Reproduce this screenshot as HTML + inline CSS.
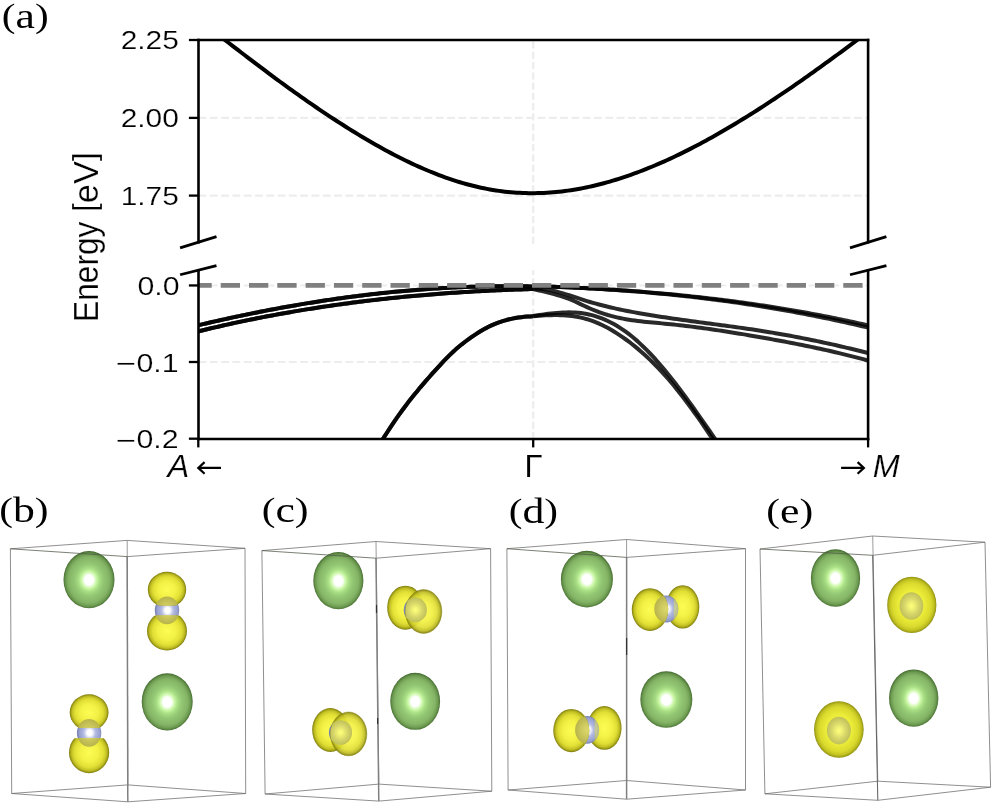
<!DOCTYPE html>
<html lang="en">
<head>
<meta charset="utf-8">
<title>Band structure and charge densities</title>
<style>
html,body{margin:0;padding:0;background:#fff;}
body{width:997px;height:812px;position:relative;overflow:hidden;font-family:"Liberation Sans",sans-serif;}
svg{display:block}
.bl{filter:blur(0.4px)}
text{fill:#000}
.lbl{opacity:0.999}
.lbl text.sn{stroke:#fff;stroke-width:0.2px}
</style>
</head>
<body>
<svg width="997" height="812" viewBox="0 0 997 812" style="position:absolute;left:0;top:0">
<defs>
<radialGradient id="gG" cx="50%" cy="50.5%" r="50%">
<stop offset="0" stop-color="#ffffff"/>
<stop offset="0.17" stop-color="#ffffff"/>
<stop offset="0.29" stop-color="#ccf8a8"/>
<stop offset="0.41" stop-color="#a8de84"/>
<stop offset="0.56" stop-color="#94c874"/>
<stop offset="0.8" stop-color="#84b466"/>
<stop offset="0.91" stop-color="#6e9c52"/>
<stop offset="0.97" stop-color="#56803e"/>
<stop offset="1" stop-color="#426a2e"/>
</radialGradient>
<radialGradient id="gY" cx="50%" cy="50%" r="50%">
<stop offset="0" stop-color="#fcfc54"/>
<stop offset="0.45" stop-color="#f3f145"/>
<stop offset="0.72" stop-color="#e1df35"/>
<stop offset="0.87" stop-color="#c3c125"/>
<stop offset="0.95" stop-color="#9c9a14"/>
<stop offset="1" stop-color="#78760a"/>
</radialGradient>
<radialGradient id="gYe" cx="50%" cy="50%" r="50%">
<stop offset="0" stop-color="#f4f444"/>
<stop offset="0.5" stop-color="#eded3a"/>
<stop offset="0.78" stop-color="#dada2e"/>
<stop offset="0.9" stop-color="#c2c222"/>
<stop offset="0.97" stop-color="#a2a216"/>
<stop offset="1" stop-color="#88880e"/>
</radialGradient>
<radialGradient id="gA" cx="52%" cy="50%" r="50%">
<stop offset="0" stop-color="#ffffff"/>
<stop offset="0.2" stop-color="#ffffff"/>
<stop offset="0.5" stop-color="#b2bae2"/>
<stop offset="0.85" stop-color="#969fce"/>
<stop offset="1" stop-color="#7a84b2"/>
</radialGradient>
<radialGradient id="gO" cx="50%" cy="50%" r="50%">
<stop offset="0" stop-color="#ffff7c"/>
<stop offset="0.25" stop-color="#f0f074"/>
<stop offset="0.6" stop-color="#d6d66a"/>
<stop offset="1" stop-color="#c0c05a"/>
</radialGradient>
<radialGradient id="gO2" cx="50%" cy="50%" r="50%">
<stop offset="0" stop-color="#dcd86c"/>
<stop offset="0.5" stop-color="#ccc85e"/>
<stop offset="1" stop-color="#b8b44c"/>
</radialGradient>
</defs>
<g><g fill="none" stroke="#6a6a6a" stroke-width="0.75"><path d="M10.4,548.8L127.2,540.4L245.0,548.3L127.2,556.6"/><path d="M11.7,793.5L127.8,784.9L245.7,793.5L127.8,801.8Z"/><path d="M10.4,548.8L11.7,793.5M245.0,548.3L245.7,793.5"/><path d="M127.2,540.4L127.8,784.9" stroke="#7a7a7a"/><path d="M127.2,556.6L127.8,801.8" stroke="#808080" stroke-width="1.5"/></g><g fill="none" stroke="#6a6a6a" stroke-width="0.75"><path d="M261.9,550.6L376.0,541.5L490.6,548.7L376.0,558.2"/><path d="M265.1,794.0L378.8,784.1L491.8,791.2L378.8,801.1Z"/><path d="M261.9,550.6L265.1,794.0M490.6,548.7L491.8,791.2"/><path d="M376.0,541.5L378.8,784.1" stroke="#7a7a7a"/><path d="M376.0,558.2L378.8,801.1" stroke="#808080" stroke-width="1.5"/></g><g fill="none" stroke="#6a6a6a" stroke-width="0.75"><path d="M506.9,548.7L626.6,539.5L745.5,548.7L626.6,557.4"/><path d="M508.1,790.0L626.6,780.5L745.5,790.0L626.6,799.2Z"/><path d="M506.9,548.7L508.1,790.0M745.5,548.7L745.5,790.0"/><path d="M626.6,539.5L626.6,780.5" stroke="#7a7a7a"/><path d="M626.6,557.4L626.6,799.2" stroke="#808080" stroke-width="1.5"/></g><g fill="none" stroke="#6a6a6a" stroke-width="0.75"><path d="M760.0,549.0L872.7,536.0L985.0,542.2L872.7,555.3"/><path d="M764.9,793.8L877.8,781.2L990.6,787.2L877.8,800.3Z"/><path d="M760.0,549.0L764.9,793.8M985.0,542.2L990.6,787.2"/><path d="M872.7,536.0L877.8,781.2" stroke="#7a7a7a"/><path d="M872.7,555.3L877.8,800.3" stroke="#686868" stroke-width="1.1"/></g></g>
<g class="bl"><ellipse cx="89.0" cy="579.7" rx="25.5" ry="28.6" fill="url(#gG)"/><ellipse cx="167.2" cy="701.8" rx="25.5" ry="28.6" fill="url(#gG)"/><ellipse cx="167.0" cy="610.4" rx="12.2" ry="13.9" fill="url(#gA)"/><clipPath id="ctb1"><rect x="137.0" y="569.8000000000001" width="60" height="35.59999999999991"/></clipPath><clipPath id="cbb1"><rect x="137.0" y="615.6" width="60" height="37.0"/></clipPath><clipPath id="etb1"><ellipse cx="167.0" cy="589.6" rx="19.2" ry="17.8"/></clipPath><clipPath id="ebb1"><ellipse cx="167.0" cy="631.0" rx="20.0" ry="19.6"/></clipPath><g clip-path="url(#ctb1)"><ellipse cx="167.0" cy="589.6" rx="19.2" ry="17.8" fill="url(#gY)"/><g clip-path="url(#etb1)"><ellipse cx="167.0" cy="610.4" rx="12.2" ry="13.9" fill="url(#gO2)"/></g></g><g clip-path="url(#cbb1)"><ellipse cx="167.0" cy="631.0" rx="20.0" ry="19.6" fill="url(#gY)"/><g clip-path="url(#ebb1)"><ellipse cx="167.0" cy="610.4" rx="12.2" ry="13.9" fill="url(#gO2)"/></g></g><ellipse cx="89.1" cy="732.8" rx="12.2" ry="13.9" fill="url(#gA)"/><clipPath id="ctb2"><rect x="59.099999999999994" y="692.3" width="60" height="35.700000000000045"/></clipPath><clipPath id="cbb2"><rect x="59.099999999999994" y="738.2" width="60" height="36.999999999999886"/></clipPath><clipPath id="etb2"><ellipse cx="89.1" cy="712.4" rx="19.4" ry="18.1"/></clipPath><clipPath id="ebb2"><ellipse cx="89.1" cy="752.4" rx="20.1" ry="20.8"/></clipPath><g clip-path="url(#ctb2)"><ellipse cx="89.1" cy="712.4" rx="19.4" ry="18.1" fill="url(#gY)"/><g clip-path="url(#etb2)"><ellipse cx="89.1" cy="732.8" rx="12.2" ry="13.9" fill="url(#gO2)"/></g></g><g clip-path="url(#cbb2)"><ellipse cx="89.1" cy="752.4" rx="20.1" ry="20.8" fill="url(#gY)"/><g clip-path="url(#ebb2)"><ellipse cx="89.1" cy="732.8" rx="12.2" ry="13.9" fill="url(#gO2)"/></g></g><ellipse cx="338.35" cy="580.65" rx="25.05" ry="28.65" fill="url(#gG)"/><ellipse cx="415.2" cy="701.3" rx="24.9" ry="28.5" fill="url(#gG)"/><ellipse cx="405.4" cy="607.7" rx="18.2" ry="22.0" fill="url(#gY)"/><ellipse cx="415.3" cy="609.9" rx="11.6" ry="12.3" fill="url(#gA)"/><ellipse cx="423.6" cy="611.5" rx="18.2" ry="21.9" fill="url(#gY)" fill-opacity="0.93" stroke="#8c8a10" stroke-opacity="0.55" stroke-width="0.9"/><clipPath id="ccc1"><ellipse cx="423.6" cy="611.5" rx="18.2" ry="21.9"/></clipPath><g clip-path="url(#ccc1)"><ellipse cx="415.3" cy="609.9" rx="11.6" ry="12.3" fill="url(#gO)"/></g><ellipse cx="330.4" cy="730.0" rx="18.2" ry="22.0" fill="url(#gY)"/><ellipse cx="340.5" cy="732.5" rx="11.6" ry="12.3" fill="url(#gA)"/><ellipse cx="348.6" cy="733.9" rx="18.2" ry="21.9" fill="url(#gY)" fill-opacity="0.93" stroke="#8c8a10" stroke-opacity="0.55" stroke-width="0.9"/><clipPath id="ccc2"><ellipse cx="348.6" cy="733.9" rx="18.2" ry="21.9"/></clipPath><g clip-path="url(#ccc2)"><ellipse cx="340.5" cy="732.5" rx="11.6" ry="12.3" fill="url(#gO)"/></g><ellipse cx="586.9" cy="579.15" rx="26.0" ry="28.3" fill="url(#gG)"/><ellipse cx="666.35" cy="699.55" rx="26.0" ry="28.3" fill="url(#gG)"/><ellipse cx="682.7" cy="606.9" rx="16.6" ry="21.7" fill="url(#gY)"/><ellipse cx="666.3" cy="608.9" rx="12.0" ry="13.5" fill="url(#gA)"/><clipPath id="cad1"><ellipse cx="666.3" cy="608.9" rx="12.0" ry="13.5"/></clipPath><clipPath id="csd1"><rect x="673.8" y="588.9" width="10" height="40"/></clipPath><g clip-path="url(#cad1)"><g clip-path="url(#csd1)"><ellipse cx="682.7" cy="606.9" rx="16.6" ry="21.7" fill="url(#gY)" fill-opacity="0.45"/></g></g><ellipse cx="650.0" cy="609.6" rx="18.2" ry="21.4" fill="url(#gY)"/><clipPath id="cdd1"><ellipse cx="650.0" cy="609.6" rx="18.2" ry="21.4"/></clipPath><g clip-path="url(#cdd1)"><ellipse cx="666.3" cy="608.9" rx="12.0" ry="13.5" fill="url(#gO2)"/></g><ellipse cx="604.4" cy="727.9" rx="17.1" ry="21.9" fill="url(#gY)"/><ellipse cx="587.1" cy="729.9" rx="12.0" ry="13.8" fill="url(#gA)"/><clipPath id="cad2"><ellipse cx="587.1" cy="729.9" rx="12.0" ry="13.8"/></clipPath><clipPath id="csd2"><rect x="594.6" y="709.9" width="10" height="40"/></clipPath><g clip-path="url(#cad2)"><g clip-path="url(#csd2)"><ellipse cx="604.4" cy="727.9" rx="17.1" ry="21.9" fill="url(#gY)" fill-opacity="0.45"/></g></g><ellipse cx="571.3" cy="730.55" rx="18.0" ry="21.65" fill="url(#gY)"/><clipPath id="cdd2"><ellipse cx="571.3" cy="730.55" rx="18.0" ry="21.65"/></clipPath><g clip-path="url(#cdd2)"><ellipse cx="587.1" cy="729.9" rx="12.0" ry="13.8" fill="url(#gO2)"/></g><ellipse cx="835.5" cy="578.0" rx="24.65" ry="28.65" fill="url(#gG)"/><ellipse cx="913.7" cy="698.1" rx="24.7" ry="28.7" fill="url(#gG)"/><ellipse cx="911.8" cy="604.9" rx="24.6" ry="28.2" fill="url(#gYe)"/><ellipse cx="911.4" cy="606.0" rx="11.9" ry="13.8" fill="url(#gO)"/><ellipse cx="838.85" cy="729.5" rx="24.8" ry="28.3" fill="url(#gYe)"/><ellipse cx="838.9" cy="730.6" rx="12.0" ry="13.8" fill="url(#gO)"/></g>
<g><path d="M10.4,548.8L127.2,556.6" fill="none" stroke="#505a48" stroke-opacity="0.85" stroke-width="0.9"/><path d="M261.9,550.6L376.0,558.2" fill="none" stroke="#505a48" stroke-opacity="0.85" stroke-width="0.9"/><path d="M376.5,605V613" fill="none" stroke="#333" stroke-width="1.2"/><path d="M377.6,718V724" fill="none" stroke="#333" stroke-width="1.2"/><path d="M506.9,548.7L626.6,557.4" fill="none" stroke="#505a48" stroke-opacity="0.85" stroke-width="0.9"/><path d="M626.6,638V655" fill="none" stroke="#333" stroke-width="1.2"/><path d="M760.0,549.0L872.7,555.3" fill="none" stroke="#505a48" stroke-opacity="0.85" stroke-width="0.9"/></g>
</svg>
<svg width="997" height="812" viewBox="0 0 997 812" style="position:absolute;left:0;top:0" class="bl">
<defs>
<clipPath id="cu"><rect x="198.5" y="40.0" width="669.6" height="204.3"/></clipPath>
<clipPath id="cl"><rect x="198.5" y="268.2" width="669.6" height="170.8"/></clipPath>
</defs>
<g stroke="#ededed" stroke-width="2.1" fill="none" stroke-dasharray="7.9 3.4">
<path d="M198.5,117.9H868.1"/><path d="M198.5,195.6H868.1"/>
<path d="M198.5,362.0H868.1"/><path d="M198.5,285.45H868.1"/>
<path d="M533.2,243.70000000000002V40.0" stroke-width="2.3" stroke-dasharray="7.2 3.07"/><path d="M533.2,439.3V270.2" stroke-width="2.3" stroke-dasharray="7.2 3.07"/>
</g>
<g clip-path="url(#cu)" fill="none" stroke="#000" stroke-width="4.0" stroke-linejoin="round">
<path d="M211.2,29.57 L214.2,31.83 L217.2,34.11 L220.2,36.39 L223.2,38.68 L226.2,40.98 L229.2,43.28 L232.2,45.58 L235.2,47.88 L238.2,50.18 L241.2,52.48 L244.2,54.77 L247.2,57.06 L250.2,59.35 L253.2,61.63 L256.2,63.90 L259.2,66.17 L262.2,68.42 L265.2,70.67 L268.1,72.91 L271.1,75.13 L274.1,77.35 L277.1,79.56 L280.1,81.76 L283.1,83.95 L286.1,86.13 L289.1,88.30 L292.1,90.45 L295.1,92.59 L298.1,94.73 L301.1,96.85 L304.1,98.95 L307.1,101.05 L310.1,103.13 L313.1,105.19 L316.1,107.25 L319.1,109.29 L322.1,111.31 L325.1,113.32 L328.1,115.32 L331.1,117.30 L334.1,119.26 L337.1,121.21 L340.1,123.14 L343.1,125.05 L346.1,126.95 L349.1,128.83 L352.1,130.70 L355.1,132.54 L358.1,134.37 L361.1,136.18 L364.1,137.96 L367.1,139.73 L370.1,141.48 L373.1,143.21 L376.1,144.92 L379.0,146.60 L382.0,148.27 L385.0,149.91 L388.0,151.53 L391.0,153.12 L394.0,154.69 L397.0,156.24 L400.0,157.76 L403.0,159.25 L406.0,160.72 L409.0,162.17 L412.0,163.58 L415.0,164.97 L418.0,166.33 L421.0,167.67 L424.0,168.97 L427.0,170.25 L430.0,171.49 L433.0,172.71 L436.0,173.90 L439.0,175.05 L442.0,176.17 L445.0,177.26 L448.0,178.32 L451.0,179.35 L454.0,180.34 L457.0,181.30 L460.0,182.22 L463.0,183.11 L466.0,183.96 L469.0,184.78 L472.0,185.56 L475.0,186.31 L478.0,187.01 L481.0,187.68 L484.0,188.32 L486.9,188.91 L489.9,189.46 L492.9,189.98 L495.9,190.45 L498.9,190.89 L501.9,191.29 L504.9,191.65 L507.9,191.97 L510.9,192.25 L513.9,192.49 L516.9,192.70 L519.9,192.87 L522.9,193.00 L525.9,193.09 L528.9,193.15 L531.9,193.17 L534.9,193.15 L537.9,193.10 L540.9,193.01 L543.9,192.89 L546.9,192.73 L549.9,192.53 L552.9,192.30 L555.9,192.04 L558.9,191.74 L561.9,191.41 L564.9,191.04 L567.9,190.63 L570.9,190.20 L573.9,189.73 L576.9,189.22 L579.9,188.69 L582.9,188.12 L585.9,187.52 L588.9,186.88 L591.9,186.22 L594.9,185.52 L597.8,184.79 L600.8,184.03 L603.8,183.24 L606.8,182.42 L609.8,181.57 L612.8,180.69 L615.8,179.78 L618.8,178.84 L621.8,177.88 L624.8,176.88 L627.8,175.86 L630.8,174.81 L633.8,173.73 L636.8,172.63 L639.8,171.50 L642.8,170.35 L645.8,169.17 L648.8,167.96 L651.8,166.73 L654.8,165.47 L657.8,164.19 L660.8,162.89 L663.8,161.56 L666.8,160.21 L669.8,158.84 L672.8,157.44 L675.8,156.02 L678.8,154.58 L681.8,153.12 L684.8,151.64 L687.8,150.14 L690.8,148.61 L693.8,147.07 L696.8,145.50 L699.8,143.92 L702.8,142.32 L705.8,140.69 L708.7,139.05 L711.7,137.39 L714.7,135.71 L717.7,134.02 L720.7,132.30 L723.7,130.57 L726.7,128.82 L729.7,127.05 L732.7,125.27 L735.7,123.47 L738.7,121.66 L741.7,119.82 L744.7,117.98 L747.7,116.11 L750.7,114.24 L753.7,112.34 L756.7,110.44 L759.7,108.52 L762.7,106.58 L765.7,104.63 L768.7,102.67 L771.7,100.70 L774.7,98.71 L777.7,96.71 L780.7,94.70 L783.7,92.67 L786.7,90.63 L789.7,88.59 L792.7,86.53 L795.7,84.46 L798.7,82.38 L801.7,80.29 L804.7,78.19 L807.7,76.08 L810.7,73.96 L813.7,71.83 L816.6,69.69 L819.6,67.54 L822.6,65.39 L825.6,63.22 L828.6,61.05 L831.6,58.87 L834.6,56.69 L837.6,54.50 L840.6,52.30 L843.6,50.09 L846.6,47.88 L849.6,45.66 L852.6,43.44 L855.6,41.21 L858.6,38.97 L861.6,36.73 L864.6,34.49 L867.6,32.24 L870.6,29.99"/>
</g>
<g clip-path="url(#cl)" fill="none" stroke-linejoin="round">
<g stroke="#000" stroke-opacity="0.84" stroke-width="4.0">
<path d="M188.0,327.76 L191.0,327.03 L194.0,326.30 L197.0,325.58 L200.0,324.87 L203.0,324.16 L206.0,323.46 L209.0,322.76 L212.0,322.07 L215.0,321.39 L218.0,320.71 L221.0,320.03 L224.0,319.37 L227.0,318.70 L230.0,318.05 L233.0,317.40 L236.0,316.75 L239.0,316.12 L242.0,315.48 L245.0,314.86 L248.0,314.24 L251.0,313.63 L254.0,313.02 L257.0,312.42 L260.0,311.82 L263.0,311.23 L266.0,310.65 L269.0,310.07 L272.0,309.50 L275.1,308.94 L278.1,308.38 L281.1,307.83 L284.1,307.28 L287.1,306.74 L290.1,306.21 L293.1,305.68 L296.1,305.16 L299.1,304.65 L302.1,304.14 L305.1,303.64 L308.1,303.15 L311.1,302.66 L314.1,302.18 L317.1,301.71 L320.1,301.24 L323.1,300.78 L326.1,300.32 L329.1,299.88 L332.1,299.44 L335.1,299.00 L338.1,298.57 L341.1,298.15 L344.1,297.74 L347.1,297.33 L350.1,296.93 L353.1,296.54 L356.1,296.15 L359.1,295.77 L362.1,295.40 L365.1,295.04 L368.1,294.68 L371.1,294.33 L374.1,293.98 L377.1,293.64 L380.1,293.31 L383.1,292.99 L386.1,292.68 L389.1,292.37 L392.1,292.07 L395.1,291.77 L398.1,291.48 L401.1,291.20 L404.1,290.93 L407.1,290.67 L410.1,290.41 L413.1,290.16 L416.1,289.91 L419.1,289.68 L422.1,289.45 L425.1,289.23 L428.1,289.02 L431.1,288.81 L434.1,288.61 L437.1,288.42 L440.1,288.24 L443.1,288.06 L446.1,287.89 L449.2,287.73 L452.2,287.58 L455.2,287.43 L458.2,287.30 L461.2,287.17 L464.2,287.05 L467.2,286.93 L470.2,286.83 L473.2,286.73 L476.2,286.64 L479.2,286.55 L482.2,286.48 L485.2,286.41 L488.2,286.35 L491.2,286.30 L494.2,286.26 L497.2,286.23 L500.2,286.20 L503.2,286.18 L506.2,286.17 L509.2,286.17 L512.2,286.17 L515.2,286.19 L518.2,286.21 L521.2,286.24 L524.2,286.28 L527.2,286.32 L530.2,286.38 L533.2,286.44"/>
<path d="M188.0,333.94 L191.0,333.18 L194.0,332.43 L197.0,331.69 L200.0,330.95 L203.0,330.22 L206.0,329.49 L209.0,328.78 L212.0,328.07 L215.0,327.37 L218.0,326.68 L221.0,325.99 L224.0,325.31 L227.0,324.64 L230.0,323.98 L233.0,323.32 L236.0,322.67 L239.0,322.03 L242.0,321.39 L245.0,320.76 L248.0,320.14 L251.0,319.53 L254.0,318.92 L257.0,318.32 L260.0,317.72 L263.0,317.14 L266.0,316.56 L269.0,315.98 L272.0,315.42 L275.1,314.86 L278.1,314.31 L281.1,313.76 L284.1,313.22 L287.1,312.69 L290.1,312.16 L293.1,311.64 L296.1,311.13 L299.1,310.62 L302.1,310.12 L305.1,309.63 L308.1,309.15 L311.1,308.67 L314.1,308.19 L317.1,307.72 L320.1,307.26 L323.1,306.81 L326.1,306.36 L329.1,305.92 L332.1,305.48 L335.1,305.05 L338.1,304.63 L341.1,304.21 L344.1,303.80 L347.1,303.40 L350.1,303.00 L353.1,302.60 L356.1,302.22 L359.1,301.84 L362.1,301.46 L365.1,301.09 L368.1,300.73 L371.1,300.37 L374.1,300.02 L377.1,299.68 L380.1,299.34 L383.1,299.00 L386.1,298.67 L389.1,298.35 L392.1,298.04 L395.1,297.72 L398.1,297.42 L401.1,297.12 L404.1,296.82 L407.1,296.54 L410.1,296.25 L413.1,295.97 L416.1,295.70 L419.1,295.44 L422.1,295.17 L425.1,294.92 L428.1,294.67 L431.1,294.42 L434.1,294.18 L437.1,293.95 L440.1,293.72 L443.1,293.49 L446.1,293.27 L449.2,293.06 L452.2,292.85 L455.2,292.64 L458.2,292.45 L461.2,292.25 L464.2,292.06 L467.2,291.88 L470.2,291.70 L473.2,291.53 L476.2,291.36 L479.2,291.19 L482.2,291.03 L485.2,290.88 L488.2,290.73 L491.2,290.58 L494.2,290.44 L497.2,290.30 L500.2,290.17 L503.2,290.05 L506.2,289.92 L509.2,289.81 L512.2,289.69 L515.2,289.59 L518.2,289.48 L521.2,289.38 L524.2,289.29 L527.2,289.20 L530.2,289.11 L533.2,289.03"/>
<path d="M375.5,451.32 L378.5,446.31 L381.5,441.41 L384.4,436.64 L387.4,431.97 L390.4,427.42 L393.4,422.98 L396.3,418.64 L399.3,414.41 L402.3,410.29 L405.3,406.27 L408.2,402.35 L411.2,398.53 L414.2,394.81 L417.2,391.17 L420.1,387.60 L423.1,384.10 L426.1,380.65 L429.1,377.26 L432.0,373.91 L435.0,370.59 L438.0,367.31 L441.0,364.08 L443.9,360.93 L446.9,357.86 L449.9,354.90 L452.9,352.05 L455.8,349.34 L458.8,346.77 L461.8,344.32 L464.8,341.99 L467.7,339.76 L470.7,337.62 L473.7,335.57 L476.7,333.62 L479.6,331.75 L482.6,329.99 L485.6,328.35 L488.6,326.82 L491.5,325.41 L494.5,324.12 L497.5,322.94 L500.5,321.87 L503.4,320.91 L506.4,320.05 L509.4,319.29 L512.4,318.62 L515.3,318.05 L518.3,317.56 L521.3,317.16 L524.3,316.84 L527.2,316.59 L530.2,316.42 L533.2,316.32"/>
<path d="M533.2,286.16 L536.2,286.24 L539.2,286.33 L542.2,286.43 L545.2,286.52 L548.1,286.62 L551.1,286.73 L554.1,286.83 L557.1,286.94 L560.1,287.06 L563.1,287.18 L566.1,287.30 L569.1,287.43 L572.1,287.56 L575.1,287.69 L578.0,287.83 L581.0,287.97 L584.0,288.12 L587.0,288.27 L590.0,288.43 L593.0,288.58 L596.0,288.75 L599.0,288.92 L602.0,289.09 L605.0,289.26 L607.9,289.44 L610.9,289.63 L613.9,289.82 L616.9,290.01 L619.9,290.21 L622.9,290.41 L625.9,290.62 L628.9,290.83 L631.9,291.04 L634.8,291.26 L637.8,291.49 L640.8,291.72 L643.8,291.95 L646.8,292.19 L649.8,292.44 L652.8,292.69 L655.8,292.94 L658.8,293.20 L661.8,293.46 L664.7,293.73 L667.7,294.00 L670.7,294.28 L673.7,294.57 L676.7,294.85 L679.7,295.15 L682.7,295.45 L685.7,295.75 L688.7,296.06 L691.7,296.37 L694.6,296.69 L697.6,297.02 L700.6,297.35 L703.6,297.68 L706.6,298.02 L709.6,298.37 L712.6,298.72 L715.6,299.08 L718.6,299.44 L721.5,299.81 L724.5,300.19 L727.5,300.57 L730.5,300.95 L733.5,301.34 L736.5,301.74 L739.5,302.14 L742.5,302.55 L745.5,302.96 L748.5,303.38 L751.4,303.81 L754.4,304.24 L757.4,304.68 L760.4,305.12 L763.4,305.57 L766.4,306.03 L769.4,306.49 L772.4,306.96 L775.4,307.43 L778.4,307.91 L781.3,308.40 L784.3,308.89 L787.3,309.39 L790.3,309.90 L793.3,310.41 L796.3,310.93 L799.3,311.45 L802.3,311.99 L805.3,312.52 L808.2,313.07 L811.2,313.62 L814.2,314.17 L817.2,314.74 L820.2,315.31 L823.2,315.89 L826.2,316.47 L829.2,317.06 L832.2,317.66 L835.2,318.26 L838.1,318.87 L841.1,319.49 L844.1,320.12 L847.1,320.75 L850.1,321.39 L853.1,322.03 L856.1,322.69 L859.1,323.35 L862.1,324.01 L865.1,324.69 L868.0,325.37 L871.0,326.06 L874.0,326.75 L877.0,327.46 L880.0,328.17"/>
<path d="M533.2,286.17 L536.2,286.24 L539.2,286.32 L542.2,286.41 L545.2,286.49 L548.1,286.59 L551.1,286.68 L554.1,286.79 L557.1,286.89 L560.1,287.00 L563.1,287.12 L566.1,287.24 L569.1,287.37 L572.1,287.50 L575.1,287.63 L578.0,287.77 L581.0,287.92 L584.0,288.07 L587.0,288.22 L590.0,288.38 L593.0,288.54 L596.0,288.71 L599.0,288.89 L602.0,289.07 L605.0,289.25 L607.9,289.44 L610.9,289.63 L613.9,289.83 L616.9,290.04 L619.9,290.25 L622.9,290.46 L625.9,290.68 L628.9,290.91 L631.9,291.14 L634.8,291.37 L637.8,291.61 L640.8,291.86 L643.8,292.11 L646.8,292.37 L649.8,292.63 L652.8,292.90 L655.8,293.17 L658.8,293.45 L661.8,293.73 L664.7,294.02 L667.7,294.31 L670.7,294.61 L673.7,294.92 L676.7,295.23 L679.7,295.54 L682.7,295.87 L685.7,296.19 L688.7,296.53 L691.7,296.87 L694.6,297.21 L697.6,297.56 L700.6,297.92 L703.6,298.28 L706.6,298.65 L709.6,299.02 L712.6,299.40 L715.6,299.78 L718.6,300.17 L721.5,300.57 L724.5,300.97 L727.5,301.38 L730.5,301.79 L733.5,302.21 L736.5,302.64 L739.5,303.07 L742.5,303.51 L745.5,303.95 L748.5,304.40 L751.4,304.86 L754.4,305.32 L757.4,305.79 L760.4,306.26 L763.4,306.74 L766.4,307.23 L769.4,307.72 L772.4,308.22 L775.4,308.72 L778.4,309.24 L781.3,309.75 L784.3,310.28 L787.3,310.81 L790.3,311.34 L793.3,311.89 L796.3,312.44 L799.3,312.99 L802.3,313.55 L805.3,314.12 L808.2,314.70 L811.2,315.28 L814.2,315.87 L817.2,316.46 L820.2,317.06 L823.2,317.67 L826.2,318.28 L829.2,318.91 L832.2,319.53 L835.2,320.17 L838.1,320.81 L841.1,321.46 L844.1,322.11 L847.1,322.77 L850.1,323.44 L853.1,324.11 L856.1,324.79 L859.1,325.48 L862.1,326.18 L865.1,326.88 L868.0,327.59 L871.0,328.30 L874.0,329.03 L877.0,329.76 L880.0,330.49"/>
<path d="M533.2,288.73 L536.2,288.69 L539.2,288.78 L542.2,289.01 L545.2,289.36 L548.1,289.83 L551.1,290.39 L554.1,291.04 L557.1,291.78 L560.1,292.58 L563.1,293.44 L566.1,294.34 L569.1,295.28 L572.1,296.25 L575.1,297.23 L578.0,298.22 L581.0,299.19 L584.0,300.15 L587.0,301.08 L590.0,301.98 L593.0,302.85 L596.0,303.69 L599.0,304.50 L602.0,305.28 L605.0,306.04 L607.9,306.77 L610.9,307.48 L613.9,308.17 L616.9,308.83 L619.9,309.47 L622.9,310.09 L625.9,310.70 L628.9,311.29 L631.9,311.86 L634.8,312.41 L637.8,312.96 L640.8,313.48 L643.8,314.00 L646.8,314.51 L649.8,315.00 L652.8,315.49 L655.8,315.97 L658.8,316.44 L661.8,316.90 L664.7,317.35 L667.7,317.80 L670.7,318.24 L673.7,318.67 L676.7,319.10 L679.7,319.52 L682.7,319.94 L685.7,320.35 L688.7,320.76 L691.7,321.17 L694.6,321.57 L697.6,321.97 L700.6,322.37 L703.6,322.77 L706.6,323.17 L709.6,323.56 L712.6,323.96 L715.6,324.36 L718.6,324.76 L721.5,325.16 L724.5,325.56 L727.5,325.96 L730.5,326.37 L733.5,326.78 L736.5,327.20 L739.5,327.62 L742.5,328.04 L745.5,328.47 L748.5,328.90 L751.4,329.35 L754.4,329.80 L757.4,330.25 L760.4,330.71 L763.4,331.19 L766.4,331.67 L769.4,332.16 L772.4,332.65 L775.4,333.16 L778.4,333.68 L781.3,334.20 L784.3,334.74 L787.3,335.28 L790.3,335.83 L793.3,336.39 L796.3,336.95 L799.3,337.53 L802.3,338.11 L805.3,338.71 L808.2,339.31 L811.2,339.92 L814.2,340.53 L817.2,341.16 L820.2,341.79 L823.2,342.43 L826.2,343.08 L829.2,343.73 L832.2,344.40 L835.2,345.07 L838.1,345.75 L841.1,346.43 L844.1,347.13 L847.1,347.83 L850.1,348.54 L853.1,349.25 L856.1,349.98 L859.1,350.71 L862.1,351.44 L865.1,352.19 L868.0,352.94 L871.0,353.70 L874.0,354.46 L877.0,355.23 L880.0,356.01"/>
<path d="M533.2,289.10 L536.2,289.76 L539.2,290.45 L542.2,291.16 L545.2,291.89 L548.1,292.64 L551.1,293.40 L554.1,294.18 L557.1,294.99 L560.1,295.86 L563.1,296.79 L566.1,297.81 L569.1,298.93 L572.1,300.16 L575.1,301.50 L578.0,302.90 L581.0,304.34 L584.0,305.77 L587.0,307.18 L590.0,308.51 L593.0,309.77 L596.0,310.96 L599.0,312.07 L602.0,313.11 L605.0,314.08 L607.9,314.99 L610.9,315.83 L613.9,316.62 L616.9,317.34 L619.9,318.01 L622.9,318.62 L625.9,319.18 L628.9,319.69 L631.9,320.16 L634.8,320.59 L637.8,320.98 L640.8,321.34 L643.8,321.67 L646.8,321.98 L649.8,322.28 L652.8,322.56 L655.8,322.84 L658.8,323.11 L661.8,323.38 L664.7,323.66 L667.7,323.95 L670.7,324.25 L673.7,324.56 L676.7,324.88 L679.7,325.22 L682.7,325.56 L685.7,325.91 L688.7,326.27 L691.7,326.64 L694.6,327.02 L697.6,327.41 L700.6,327.80 L703.6,328.21 L706.6,328.62 L709.6,329.05 L712.6,329.48 L715.6,329.91 L718.6,330.36 L721.5,330.81 L724.5,331.27 L727.5,331.73 L730.5,332.20 L733.5,332.68 L736.5,333.17 L739.5,333.66 L742.5,334.15 L745.5,334.65 L748.5,335.16 L751.4,335.67 L754.4,336.19 L757.4,336.71 L760.4,337.23 L763.4,337.76 L766.4,338.29 L769.4,338.83 L772.4,339.37 L775.4,339.92 L778.4,340.47 L781.3,341.02 L784.3,341.58 L787.3,342.15 L790.3,342.72 L793.3,343.30 L796.3,343.88 L799.3,344.47 L802.3,345.07 L805.3,345.68 L808.2,346.29 L811.2,346.91 L814.2,347.54 L817.2,348.18 L820.2,348.82 L823.2,349.48 L826.2,350.14 L829.2,350.82 L832.2,351.50 L835.2,352.19 L838.1,352.90 L841.1,353.61 L844.1,354.34 L847.1,355.08 L850.1,355.82 L853.1,356.58 L856.1,357.36 L859.1,358.14 L862.1,358.94 L865.1,359.75 L868.0,360.57 L871.0,361.41 L874.0,362.26 L877.0,363.12 L880.0,364.00"/>
<path d="M533.2,316.01 L536.2,315.55 L539.2,315.10 L542.2,314.66 L545.1,314.23 L548.1,313.84 L551.1,313.48 L554.1,313.16 L557.1,312.88 L560.1,312.65 L563.0,312.49 L566.0,312.39 L569.0,312.36 L572.0,312.41 L575.0,312.54 L578.0,312.76 L581.0,313.08 L583.9,313.50 L586.9,314.03 L589.9,314.68 L592.9,315.43 L595.9,316.31 L598.9,317.30 L601.8,318.41 L604.8,319.63 L607.8,320.98 L610.8,322.45 L613.8,324.05 L616.8,325.76 L619.7,327.61 L622.7,329.58 L625.7,331.68 L628.7,333.91 L631.7,336.27 L634.7,338.76 L637.7,341.38 L640.6,344.11 L643.6,346.97 L646.6,349.93 L649.6,353.01 L652.6,356.18 L655.6,359.46 L658.5,362.83 L661.5,366.29 L664.5,369.84 L667.5,373.47 L670.5,377.18 L673.5,380.97 L676.5,384.82 L679.4,388.74 L682.4,392.72 L685.4,396.76 L688.4,400.85 L691.4,404.99 L694.4,409.17 L697.3,413.39 L700.3,417.64 L703.3,421.91 L706.3,426.20 L709.3,430.51 L712.3,434.83 L715.2,439.15 L718.2,443.46 L721.2,447.77 L724.2,452.07"/>
<path d="M533.2,316.22 L536.2,315.98 L539.2,315.75 L542.2,315.55 L545.2,315.37 L548.2,315.23 L551.1,315.14 L554.1,315.08 L557.1,315.08 L560.1,315.14 L563.1,315.26 L566.1,315.45 L569.1,315.71 L572.1,316.06 L575.1,316.49 L578.1,317.02 L581.0,317.64 L584.0,318.37 L587.0,319.21 L590.0,320.16 L593.0,321.21 L596.0,322.38 L599.0,323.65 L602.0,325.02 L605.0,326.50 L608.0,328.07 L611.0,329.74 L613.9,331.51 L616.9,333.37 L619.9,335.32 L622.9,337.36 L625.9,339.50 L628.9,341.71 L631.9,344.01 L634.9,346.40 L637.9,348.87 L640.9,351.43 L643.8,354.07 L646.8,356.81 L649.8,359.63 L652.8,362.54 L655.8,365.55 L658.8,368.64 L661.8,371.83 L664.8,375.12 L667.8,378.50 L670.8,381.97 L673.8,385.54 L676.7,389.21 L679.7,392.97 L682.7,396.82 L685.7,400.74 L688.7,404.75 L691.7,408.84 L694.7,412.99 L697.7,417.20 L700.7,421.47 L703.7,425.78 L706.6,430.13 L709.6,434.51 L712.6,438.90 L715.6,443.31 L718.6,447.73 L721.6,452.13"/>
<path d="M188.0,327.76 L191.0,327.03 L194.0,326.30 L197.0,325.58 L200.0,324.87 L203.0,324.16 L206.0,323.46 L209.0,322.76 L212.0,322.07 L215.0,321.39 L218.0,320.71 L221.0,320.03 L224.0,319.37 L227.0,318.70 L230.0,318.05 L233.0,317.40 L236.0,316.75 L239.0,316.12 L242.0,315.48 L245.0,314.86 L248.0,314.24 L251.0,313.63 L254.0,313.02 L257.0,312.42 L260.0,311.82 L263.0,311.23 L266.0,310.65 L269.0,310.07 L272.0,309.50 L275.1,308.94 L278.1,308.38 L281.1,307.83 L284.1,307.28 L287.1,306.74 L290.1,306.21 L293.1,305.68 L296.1,305.16 L299.1,304.65 L302.1,304.14 L305.1,303.64 L308.1,303.15 L311.1,302.66 L314.1,302.18 L317.1,301.71 L320.1,301.24 L323.1,300.78 L326.1,300.32 L329.1,299.88 L332.1,299.44 L335.1,299.00 L338.1,298.57 L341.1,298.15 L344.1,297.74 L347.1,297.33 L350.1,296.93 L353.1,296.54 L356.1,296.15 L359.1,295.77 L362.1,295.40 L365.1,295.04 L368.1,294.68 L371.1,294.33 L374.1,293.98 L377.1,293.64 L380.1,293.31 L383.1,292.99 L386.1,292.68 L389.1,292.37 L392.1,292.07 L395.1,291.77 L398.1,291.48 L401.1,291.20 L404.1,290.93 L407.1,290.67 L410.1,290.41 L413.1,290.16 L416.1,289.91 L419.1,289.68 L422.1,289.45 L425.1,289.23 L428.1,289.02 L431.1,288.81 L434.1,288.61 L437.1,288.42 L440.1,288.24 L443.1,288.06 L446.1,287.89 L449.2,287.73 L452.2,287.58 L455.2,287.43 L458.2,287.30 L461.2,287.17 L464.2,287.05 L467.2,286.93 L470.2,286.83 L473.2,286.73 L476.2,286.64 L479.2,286.55 L482.2,286.48 L485.2,286.41 L488.2,286.35 L491.2,286.30 L494.2,286.26 L497.2,286.23 L500.2,286.20 L503.2,286.18 L506.2,286.17 L509.2,286.17 L512.2,286.17 L515.2,286.19 L518.2,286.21 L521.2,286.24 L524.2,286.28 L527.2,286.32 L530.2,286.38 L533.2,286.44"/>
<path d="M188.0,333.94 L191.0,333.18 L194.0,332.43 L197.0,331.69 L200.0,330.95 L203.0,330.22 L206.0,329.49 L209.0,328.78 L212.0,328.07 L215.0,327.37 L218.0,326.68 L221.0,325.99 L224.0,325.31 L227.0,324.64 L230.0,323.98 L233.0,323.32 L236.0,322.67 L239.0,322.03 L242.0,321.39 L245.0,320.76 L248.0,320.14 L251.0,319.53 L254.0,318.92 L257.0,318.32 L260.0,317.72 L263.0,317.14 L266.0,316.56 L269.0,315.98 L272.0,315.42 L275.1,314.86 L278.1,314.31 L281.1,313.76 L284.1,313.22 L287.1,312.69 L290.1,312.16 L293.1,311.64 L296.1,311.13 L299.1,310.62 L302.1,310.12 L305.1,309.63 L308.1,309.15 L311.1,308.67 L314.1,308.19 L317.1,307.72 L320.1,307.26 L323.1,306.81 L326.1,306.36 L329.1,305.92 L332.1,305.48 L335.1,305.05 L338.1,304.63 L341.1,304.21 L344.1,303.80 L347.1,303.40 L350.1,303.00 L353.1,302.60 L356.1,302.22 L359.1,301.84 L362.1,301.46 L365.1,301.09 L368.1,300.73 L371.1,300.37 L374.1,300.02 L377.1,299.68 L380.1,299.34 L383.1,299.00 L386.1,298.67 L389.1,298.35 L392.1,298.04 L395.1,297.72 L398.1,297.42 L401.1,297.12 L404.1,296.82 L407.1,296.54 L410.1,296.25 L413.1,295.97 L416.1,295.70 L419.1,295.44 L422.1,295.17 L425.1,294.92 L428.1,294.67 L431.1,294.42 L434.1,294.18 L437.1,293.95 L440.1,293.72 L443.1,293.49 L446.1,293.27 L449.2,293.06 L452.2,292.85 L455.2,292.64 L458.2,292.45 L461.2,292.25 L464.2,292.06 L467.2,291.88 L470.2,291.70 L473.2,291.53 L476.2,291.36 L479.2,291.19 L482.2,291.03 L485.2,290.88 L488.2,290.73 L491.2,290.58 L494.2,290.44 L497.2,290.30 L500.2,290.17 L503.2,290.05 L506.2,289.92 L509.2,289.81 L512.2,289.69 L515.2,289.59 L518.2,289.48 L521.2,289.38 L524.2,289.29 L527.2,289.20 L530.2,289.11 L533.2,289.03"/>
<path d="M375.5,451.32 L378.5,446.31 L381.5,441.41 L384.4,436.64 L387.4,431.97 L390.4,427.42 L393.4,422.98 L396.3,418.64 L399.3,414.41 L402.3,410.29 L405.3,406.27 L408.2,402.35 L411.2,398.53 L414.2,394.81 L417.2,391.17 L420.1,387.60 L423.1,384.10 L426.1,380.65 L429.1,377.26 L432.0,373.91 L435.0,370.59 L438.0,367.31 L441.0,364.08 L443.9,360.93 L446.9,357.86 L449.9,354.90 L452.9,352.05 L455.8,349.34 L458.8,346.77 L461.8,344.32 L464.8,341.99 L467.7,339.76 L470.7,337.62 L473.7,335.57 L476.7,333.62 L479.6,331.75 L482.6,329.99 L485.6,328.35 L488.6,326.82 L491.5,325.41 L494.5,324.12 L497.5,322.94 L500.5,321.87 L503.4,320.91 L506.4,320.05 L509.4,319.29 L512.4,318.62 L515.3,318.05 L518.3,317.56 L521.3,317.16 L524.3,316.84 L527.2,316.59 L530.2,316.42 L533.2,316.32"/>
</g>
<path d="M192.39999999999998,285.45H868.1" stroke="#808080" stroke-width="4.8" stroke-dasharray="19.3 9.0"/>
</g>
<g stroke="#000" stroke-width="2.5" fill="none" stroke-linecap="square">
<path d="M198.5,242.3V40.0M868.1,40.0V242.3M198.5,270.2V439.0M868.1,439.0V270.2" stroke-width="2.6"/>
<path d="M198.5,40.0H868.1M198.5,439.0H868.1" stroke-width="2.3"/>
</g>
<g stroke="#000" stroke-width="2.3" fill="none">
<path d="M188.9,40.0H198.5"/>
<path d="M188.9,117.9H198.5"/>
<path d="M188.9,195.6H198.5"/>
<path d="M188.9,285.45H198.5"/>
<path d="M188.9,362.0H198.5"/>
<path d="M188.9,438.7H198.5"/>
<path d="M198.3,439.0V447.4"/>
<path d="M533.2,439.0V447.4"/>
<path d="M868.1,439.0V447.4"/>
</g>
<g stroke="#000" stroke-width="2.8" fill="none">
<path d="M180.10000000000002,247.9L216.5,236.70000000000002"/>
<path d="M180.10000000000002,274.75L216.5,265.65"/>
<path d="M850.0,247.9L886.4000000000001,236.70000000000002"/>
<path d="M850.0,274.75L886.4000000000001,265.65"/>
</g>
<path d="M221.0,467.9H198.1M204.6,462.09999999999997L198.29999999999998,467.9L204.6,473.7" fill="none" stroke="#000" stroke-width="2.2"/>
<path d="M841.1,467.9H864.1M857.6,462.09999999999997L863.9,467.9L857.6,473.7" fill="none" stroke="#000" stroke-width="2.2"/>
<g class="lbl">
<text transform="translate(1.8,28.1) scale(1.243,1)" text-anchor="start" style="font-family:'Liberation Serif',serif;font-size:35.2px;"><tspan font-size="33.2" dy="-0.9">(</tspan><tspan font-size="35.2" dy="0.9">a</tspan><tspan font-size="33.2" dy="-0.9">)</tspan></text>
<text transform="translate(-0.8,522.1) scale(1.243,1)" text-anchor="start" style="font-family:'Liberation Serif',serif;font-size:35.2px;"><tspan font-size="33.2" dy="-0.9">(</tspan><tspan font-size="35.2" dy="0.9">b</tspan><tspan font-size="33.2" dy="-0.9">)</tspan></text>
<text transform="translate(261.7,522.1) scale(1.243,1)" text-anchor="start" style="font-family:'Liberation Serif',serif;font-size:35.2px;"><tspan font-size="33.2" dy="-0.9">(</tspan><tspan font-size="35.2" dy="0.9">c</tspan><tspan font-size="33.2" dy="-0.9">)</tspan></text>
<text transform="translate(508.7,522.6) scale(1.243,1)" text-anchor="start" style="font-family:'Liberation Serif',serif;font-size:35.2px;"><tspan font-size="33.2" dy="-0.9">(</tspan><tspan font-size="35.2" dy="0.9">d</tspan><tspan font-size="33.2" dy="-0.9">)</tspan></text>
<text transform="translate(766.3,522.6) scale(1.243,1)" text-anchor="start" style="font-family:'Liberation Serif',serif;font-size:35.2px;"><tspan font-size="33.2" dy="-0.9">(</tspan><tspan font-size="35.2" dy="0.9">e</tspan><tspan font-size="33.2" dy="-0.9">)</tspan></text>
<text class="sn" transform="translate(178.8,49.0) scale(1.15,1)" text-anchor="end" style="font-family:'Liberation Sans',sans-serif;font-size:26px;">2.25</text>
<text class="sn" transform="translate(178.8,127.10000000000001) scale(1.15,1)" text-anchor="end" style="font-family:'Liberation Sans',sans-serif;font-size:26px;">2.00</text>
<text class="sn" transform="translate(178.8,205.2) scale(1.15,1)" text-anchor="end" style="font-family:'Liberation Sans',sans-serif;font-size:26px;">1.75</text>
<text class="sn" transform="translate(179.5,295.4) scale(1.165,1)" text-anchor="end" style="font-family:'Liberation Sans',sans-serif;font-size:26px;">0.0</text>
<text class="sn" transform="translate(178.6,371.8) scale(1.165,1)" text-anchor="end" style="font-family:'Liberation Sans',sans-serif;font-size:26px;">0.1</text>
<text class="sn" transform="translate(178.6,448.3) scale(1.165,1)" text-anchor="end" style="font-family:'Liberation Sans',sans-serif;font-size:26px;">0.2</text>
<text class="sn" transform="translate(115.8,373.2) scale(1.24,1)" text-anchor="start" style="font-family:'Liberation Sans',sans-serif;font-size:28px;">−</text>
<text class="sn" transform="translate(115.8,449.7) scale(1.24,1)" text-anchor="start" style="font-family:'Liberation Sans',sans-serif;font-size:28px;">−</text>
<text class="sn" transform="translate(167.5,477.0) scale(1.06,1)" text-anchor="start" style="font-family:'Liberation Sans',sans-serif;font-size:30.8px;font-style:italic;">A</text>
<text class="sn" transform="translate(524.3,477.3) scale(1.09,1)" text-anchor="start" style="font-family:'Liberation Sans',sans-serif;font-size:30.8px;">Γ</text>
<text class="sn" transform="translate(872.8,477.1) scale(1.05,1)" text-anchor="start" style="font-family:'Liberation Sans',sans-serif;font-size:30.8px;font-style:italic;">M</text>
<text class="sn" transform="translate(97.6,321.9) rotate(-90) scale(0.92,1)" text-anchor="start" style="font-family:'Liberation Sans',sans-serif;font-size:34.4px;">Energy</text>
<text class="sn" transform="translate(97.6,211.8) rotate(-90) scale(1.0,1)" text-anchor="start" style="font-family:'Liberation Sans',sans-serif;font-size:34.4px;"><tspan font-size="31" dy="-2.2">[</tspan><tspan dy="2.2">eV</tspan><tspan font-size="31" dy="-2.2">]</tspan></text>
</g>
</svg>
</body>
</html>
